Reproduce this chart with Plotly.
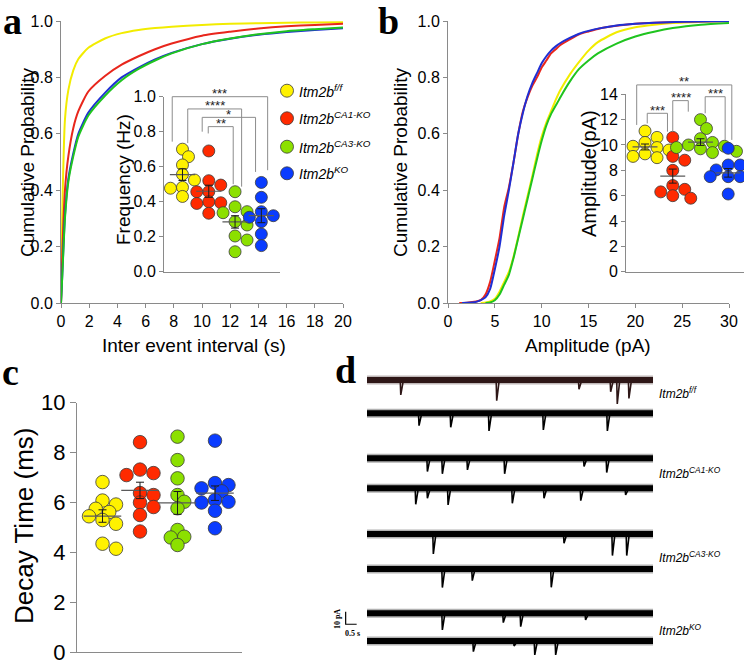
import numpy as np
import plotly.graph_objects as go

W, H = 744, 662
FONT = "Liberation Sans"
SERIF = "Liberation Serif"

def px(x):
    return x / W

def py(y):
    return 1 - y / H

# ---------------- data ----------------
genotype_labels = ["Itm2b<sup>f/f</sup>", "Itm2b<sup>CA1-KO</sup>",
                   "Itm2b<sup>CA3-KO</sup>", "Itm2b<sup>KO</sup>"]
dot_colors = ["#FFF200", "#FF2A00", "#8CE000", "#0A3CFF"]
curve_colors = ["#F2EC00", "#E8261C", "#1FC41F", "#1F2FD4"]
curve_order = [0, 1, 3, 2]

# panel a: cumulative probability of inter event interval (s)
iei_x = [0, 0.095, 0.28, 0.52, 0.87, 1.23, 1.94, 3.12, 4.3, 5.5, 6.67, 7.85,
         10, 12, 14, 16, 18, 20]
iei_ff = [0, 0.33, 0.65, 0.755, 0.825, 0.865, 0.905, 0.938, 0.957, 0.968, 0.975,
          0.98, 0.986, 0.99, 0.992, 0.994, 0.995, 0.996]
iei_ca1 = [0, 0.18, 0.40, 0.52, 0.62, 0.68, 0.75, 0.805, 0.845, 0.875, 0.90,
           0.92, 0.948, 0.962, 0.973, 0.981, 0.986, 0.99]
iei_ca3 = [0, 0.10, 0.30, 0.43, 0.52, 0.59, 0.665, 0.735, 0.79, 0.83, 0.86,
           0.885, 0.918, 0.938, 0.953, 0.964, 0.971, 0.977]
iei_ko = [0, 0.105, 0.31, 0.44, 0.53, 0.60, 0.675, 0.745, 0.80, 0.835, 0.864,
          0.887, 0.918, 0.937, 0.951, 0.961, 0.968, 0.974]

# panel b: cumulative probability of amplitude (pA)
amp_x_ff = [3.5, 4, 4.5, 5, 5.5, 6, 6.5, 7, 7.5, 8, 8.5, 9, 9.5, 10, 10.5, 11,
            11.5, 12, 13, 14, 15, 16, 18, 20, 22, 24, 27, 30]
amp_ff = [0, 0.002, 0.006, 0.015, 0.04, 0.075, 0.11, 0.165, 0.235, 0.31, 0.38,
          0.45, 0.525, 0.59, 0.64, 0.68, 0.72, 0.755, 0.81, 0.855, 0.895, 0.925,
          0.96, 0.978, 0.987, 0.993, 0.997, 1.0]
amp_x_ca1 = [1.2, 2, 3, 3.5, 4, 4.5, 5, 5.5, 6, 6.5, 7, 7.5, 8, 8.5, 9, 9.5, 10,
             10.5, 11, 11.5, 12, 13, 14, 15, 16, 18, 20, 22, 25, 30]
amp_ca1 = [0, 0.001, 0.005, 0.01, 0.03, 0.075, 0.15, 0.23, 0.34, 0.41, 0.50,
           0.60, 0.68, 0.73, 0.77, 0.80, 0.835, 0.86, 0.885, 0.90, 0.915, 0.935,
           0.953, 0.963, 0.972, 0.983, 0.99, 0.994, 0.997, 1.0]
amp_x_ca3 = [4, 4.5, 5, 5.5, 6, 6.5, 7, 7.5, 8, 8.5, 9, 9.5, 10, 10.5, 11, 11.5,
             12, 13, 14, 15, 16, 18, 20, 22, 24, 27, 30]
amp_ca3 = [0, 0.002, 0.01, 0.03, 0.065, 0.10, 0.16, 0.23, 0.30, 0.37, 0.44, 0.51,
           0.575, 0.63, 0.67, 0.70, 0.73, 0.785, 0.83, 0.86, 0.885, 0.92, 0.945,
           0.962, 0.975, 0.987, 0.993]
amp_x_ko = [1.5, 3, 3.5, 4, 4.5, 5, 5.5, 6, 6.5, 7, 7.5, 8, 8.5, 9, 9.5, 10,
            10.5, 11, 11.5, 12, 13, 14, 15, 16, 18, 20, 22, 25, 30]
amp_ko = [0, 0.004, 0.01, 0.02, 0.05, 0.12, 0.20, 0.31, 0.40, 0.50, 0.60, 0.675,
          0.735, 0.78, 0.815, 0.85, 0.875, 0.895, 0.91, 0.922, 0.94, 0.955, 0.965,
          0.973, 0.984, 0.99, 0.994, 0.997, 1.0]

# inset a: frequency (Hz) per cell
freq_ff = [0.70, 0.657, 0.61, 0.556, 0.524, 0.482, 0.477, 0.43]
freq_ca1 = [0.69, 0.52, 0.495, 0.457, 0.457, 0.40, 0.394, 0.39, 0.334]
freq_ca3 = [0.457, 0.371, 0.343, 0.337, 0.286, 0.267, 0.204, 0.181, 0.114]
freq_ko = [0.51, 0.425, 0.343, 0.32, 0.311, 0.286, 0.215, 0.149]

# inset b: amplitude (pA) per cell
ampc_ff = [11.1, 10.6, 10.2, 9.9, 9.8, 9.6, 9.3, 9.1, 9.0]
ampc_ca1 = [10.6, 9.1, 8.8, 8.0, 6.8, 6.5, 6.3, 6.0, 5.8]
ampc_ca3 = [12.0, 11.3, 10.5, 10.2, 10.0, 9.9, 9.8, 9.7, 9.5, 9.4]
ampc_ko = [9.74, 8.42, 8.42, 8.03, 7.5, 7.5, 7.5, 6.98, 6.13]

# panel c: decay time (ms) per cell
decay_ff = [6.82, 6.08, 5.92, 5.75, 5.62, 5.45, 5.3, 5.15, 4.35, 4.15]
decay_ca1 = [8.42, 7.32, 7.18, 7.1, 6.38, 6.3, 6.0, 5.82, 5.5, 4.84]
decay_ca3 = [8.64, 7.7, 6.97, 6.3, 6.03, 5.77, 4.9, 4.63, 4.6, 4.3]
decay_ko = [8.48, 6.78, 6.7, 6.57, 6.45, 6.1, 6.03, 6.0, 5.67, 4.97]

# significance labels
freq_sig = ["***", "****", "*", "**"]
amp_sig = ["**", "***", "****", "***"]

# panel d: example traces (two per genotype); events = (time s, amplitude pA)
trace_duration = 13.0
trace_offsets = [0, -26.4, -62.1, -86.0, -122.2, -150.0, -185.2, -207.1]
event_times = [
    [1.52, 5.88, 9.62, 11.06, 11.36, 11.89],
    [2.35, 3.79, 5.53, 8.0, 10.91],
    [2.73, 3.41, 4.55, 6.24, 9.85, 10.88],
    [2.2, 2.73, 3.67, 6.59, 8.03, 9.7, 11.74],
    [3.0, 8.94, 11.14, 11.79],
    [3.41, 4.77, 8.36],
    [3.41, 6.18, 6.97, 9.92],
    [4.82, 6.67, 7.61, 8.56],
]
event_amps = [
    [11.9, 16.4, 7.4, 9.3, 19.0, 14.6],
    [9.8, 11.1, 14.0, 13.2, 14.0],
    [10.6, 12.4, 9.3, 12.4, 6.6, 11.4],
    [12.7, 7.9, 13.2, 11.9, 7.9, 9.8, 5.3],
    [15.9, 7.4, 17.2, 17.2],
    [14.8, 9.3, 14.6],
    [13.2, 7.4, 10.6, 5.3],
    [8.5, 4.0, 11.1, 11.1],
]
trace_colors = ["#2E1717"] + ["#000000"] * 7

fig = go.Figure()

# ---------------- helpers ----------------
def swarm(vals, center, ppu_x, ppu_y, diam, overlap=0.75, step=0.5):
    placed = []
    xs = [0.0] * len(vals)
    order = sorted(range(len(vals)), key=lambda i: -vals[i])
    cands = [0.0]
    for j in range(1, 30):
        cands += [j * step * diam, -j * step * diam]
    for i in order:
        yv = vals[i] * ppu_y
        chosen = cands[-1]
        for c in cands:
            if all((c - a) ** 2 + (yv - b) ** 2 >= (overlap * diam) ** 2 for a, b in placed):
                chosen = c
                break
        placed.append((chosen, yv))
        xs[i] = center + chosen / ppu_x
    return xs


def dot_panel(groups, xa, ya, ppu_x, ppu_y, diam, half, overlap=0.75):
    for g, vals in enumerate(groups):
        c = g + 1
        xs = swarm(vals, c, ppu_x, ppu_y, diam, overlap=overlap)
        fig.add_trace(go.Scatter(
            x=xs, y=vals, mode="markers", xaxis=xa, yaxis=ya, showlegend=False,
            marker=dict(size=diam, color=dot_colors[g],
                        line=dict(color="#3A3A3A", width=0.8))))
    for g, vals in enumerate(groups):
        c = g + 1
        m = float(np.mean(vals))
        sem = float(np.std(vals, ddof=1) / np.sqrt(len(vals)))
        fig.add_trace(go.Scatter(
            x=[c - half, c + half], y=[m, m], mode="lines", xaxis=xa, yaxis=ya,
            showlegend=False, line=dict(color="#5A5A5A", width=1.2)))
        fig.add_trace(go.Scatter(
            x=[c], y=[m], mode="markers", xaxis=xa, yaxis=ya, showlegend=False,
            marker=dict(size=1, color="rgba(0,0,0,0)"),
            error_y=dict(type="data", array=[sem], color="#1A1A1A",
                         thickness=1, width=4)))


def bracket(xa, ya, xl, xr, yl, yr, top, label, fsize):
    fig.add_trace(go.Scatter(
        x=[xl, xl, xr, xr], y=[yl, top, top, yr], mode="lines", xaxis=xa,
        yaxis=ya, showlegend=False, line=dict(color="#8C8C8C", width=1)))
    fig.add_annotation(x=(xl + xr) / 2, y=top, xref=xa, yref=ya, text=label,
                       showarrow=False, xanchor="center", yanchor="middle",
                       yshift=3, font=dict(family=FONT, size=fsize, color="#222"))

# ---------------- panel a ----------------
iei_series = [iei_ff, iei_ca1, iei_ca3, iei_ko]
for g in curve_order:
    fig.add_trace(go.Scatter(x=iei_x, y=iei_series[g], mode="lines",
                             xaxis="x", yaxis="y", showlegend=False,
                             line=dict(color=curve_colors[g], width=2,
                                       shape="spline", smoothing=0.6)))

# ---------------- panel b ----------------
amp_series = [(amp_x_ff, amp_ff), (amp_x_ca1, amp_ca1), (amp_x_ca3, amp_ca3),
              (amp_x_ko, amp_ko)]
for g in [0, 2, 1, 3]:
    xs, ys = amp_series[g]
    fig.add_trace(go.Scatter(x=xs, y=ys, mode="lines", xaxis="x4", yaxis="y4",
                             showlegend=False,
                             line=dict(color=curve_colors[g], width=2,
                                       shape="spline", smoothing=0.6)))

# inset / panel geometry (pixels)
ia_x0, ia_x1, ia_bot, ia_top = 164, 280, 271.7, 96.7
ia_range_x = [0.297, 4.71]
ia_ppu_x = (ia_x1 - ia_x0) / (ia_range_x[1] - ia_range_x[0])
ia_ppu_y = (ia_bot - ia_top) / 1.0
dot_panel([freq_ff, freq_ca1, freq_ca3, freq_ko], "x2", "y2",
          ia_ppu_x, ia_ppu_y, 12, 0.48)

ib_x0, ib_x1, ib_bot, ib_top = 626, 744, 271.7, 94.3
ib_range_x = [0.314, 4.57]
ib_ppu_x = (ib_x1 - ib_x0) / (ib_range_x[1] - ib_range_x[0])
ib_ppu_y = (ib_bot - ib_top) / 14.0
dot_panel([ampc_ff, ampc_ca1, ampc_ca3, ampc_ko], "x5", "y5",
          ib_ppu_x, ib_ppu_y, 12, 0.45)

c_x0, c_x1, c_bot, c_top = 77, 242, 652.3, 402.7
c_range_x = [0.32, 4.72]
c_ppu_x = (c_x1 - c_x0) / (c_range_x[1] - c_range_x[0])
c_ppu_y = (c_bot - c_top) / 10.0
dot_panel([decay_ff, decay_ca1, decay_ca3, decay_ko], "x7", "y7",
          c_ppu_x, c_ppu_y, 13.5, 0.5, overlap=0.68)

# significance brackets: (x left, x right, left foot, right foot, top)
freq_brk = [(0.61, 4.24, 0.743, 0.58, 1.0),
            (1.20, 3.25, 0.735, 0.486, 0.93),
            (1.75, 3.78, 0.80, 0.57, 0.882),
            (1.98, 2.93, 0.79, 0.50, 0.829)]
for (xl, xr, yl, yr, top), lab in zip(freq_brk, freq_sig):
    bracket("x2", "y3", xl, xr, yl, yr, top, lab, 13)

amp_brk = [(0.70, 4.13, 11.58, 10.4, 14.74),
           (1.08, 1.81, 11.7, 11.05, 12.5),
           (2.0, 2.56, 11.05, 12.63, 13.5),
           (3.17, 3.89, 12.5, 10.4, 13.81)]
for (xl, xr, yl, yr, top), lab in zip(amp_brk, amp_sig):
    bracket("x5", "y6", xl, xr, yl, yr, top, lab, 13)

# ---------------- panel d ----------------
for r, off in enumerate(trace_offsets):
    col = trace_colors[r]
    fig.add_trace(go.Scatter(x=[0, trace_duration], y=[off, off], mode="lines",
                             xaxis="x8", yaxis="y8", showlegend=False,
                             opacity=0.3, line=dict(color=col, width=9)))
    fig.add_trace(go.Scatter(x=[0, trace_duration], y=[off, off], mode="lines",
                             xaxis="x8", yaxis="y8", showlegend=False,
                             line=dict(color=col, width=6)))
    ex, ey = [], []
    for t, a in zip(event_times[r], event_amps[r]):
        ex += [t - 0.01, t + 0.015, t + 0.12, None]
        ey += [off, off - a, off - 1.5, None]
    fig.add_trace(go.Scatter(x=ex, y=ey, mode="lines", xaxis="x8", yaxis="y8",
                             showlegend=False, line=dict(color=col, width=1.6)))

# scale bar
sb_t, sb_y, sb_pA, sb_s = -0.97, -193.9, 10, 0.5
fig.add_trace(go.Scatter(x=[sb_t, sb_t, sb_t + sb_s], y=[sb_y + sb_pA, sb_y, sb_y],
                         mode="lines", xaxis="x8", yaxis="y8", showlegend=False,
                         line=dict(color="black", width=1.2)))
fig.add_annotation(x=sb_t - 0.4, y=sb_y + sb_pA / 2 - 1, xref="x8", yref="y8",
                   text="<b>10 pA</b>", textangle=-90, showarrow=False,
                   xanchor="center", yanchor="middle",
                   font=dict(family=SERIF, size=8, color="black"))
fig.add_annotation(x=sb_t + 0.33, y=sb_y - 7, xref="x8", yref="y8",
                   text="<b>0.5 s</b>", showarrow=False,
                   xanchor="center", yanchor="middle",
                   font=dict(family=SERIF, size=8, color="black"))

# row labels
for lab, ypix in zip(genotype_labels, [393, 473, 557, 630]):
    fig.add_annotation(x=px(657), y=py(ypix), xref="paper", yref="paper",
                       text="<i>" + lab + "</i>", showarrow=False,
                       xanchor="left", yanchor="middle",
                       font=dict(family=FONT, size=12, color="black"))

# ---------------- legend for inset a ----------------
leg_y = [90.7, 118.3, 146.7, 173.3]
for g, yy in enumerate(leg_y):
    r = 6.5
    fig.add_shape(type="circle", xref="paper", yref="paper",
                  x0=px(287 - r), x1=px(287 + r), y0=py(yy + r), y1=py(yy - r),
                  fillcolor=dot_colors[g], line=dict(color="#3A3A3A", width=0.8))
    fig.add_annotation(x=px(297), y=py(yy), xref="paper", yref="paper",
                       text="<i>" + genotype_labels[g] + "</i>", showarrow=False,
                       xanchor="left", yanchor="middle",
                       font=dict(family=FONT, size=14, color="black"))

# ---------------- axis titles & letters ----------------
def title(text, x, y, size, angle=0):
    fig.add_annotation(x=px(x), y=py(y), xref="paper", yref="paper", text=text,
                       textangle=angle, showarrow=False, xanchor="center",
                       yanchor="middle",
                       font=dict(family=FONT, size=size, color="black"))

title("Cumulative Probability", 28, 162, 19, -90)
title("Inter event interval (s)", 194, 345, 19)
title("Frequency (Hz)", 124, 180, 19, -90)
title("Cumulative Probability", 401, 162, 19, -90)
title("Amplitude (pA)", 588, 345, 19)
title("Amplitude(pA)", 589, 174, 20, -90)
title("Decay Time (ms)", 24, 526, 26, -90)

for letter, x, y in [("a", 12, 21), ("b", 388, 21), ("c", 10, 372), ("d", 345, 370)]:
    fig.add_annotation(x=px(x), y=py(y), xref="paper", yref="paper",
                       text="<b>" + letter + "</b>", showarrow=False,
                       xanchor="center", yanchor="middle",
                       font=dict(family=SERIF, size=38, color="black"))

# ---------------- axes ----------------
axis_col = "#8A8A8A"
base = dict(showgrid=False, zeroline=False, showline=True, linecolor=axis_col,
            linewidth=1, ticks="outside", tickcolor=axis_col, ticklen=4,
            automargin=False, ticklabeloverflow="allow",
            tickfont=dict(family=FONT, size=16, color="black"))
hidden_x = dict(showgrid=False, zeroline=False, showline=True, automargin=False,
                linecolor=axis_col, linewidth=1, ticks="", showticklabels=False)

fig.update_layout(
    template="none",
    width=W, height=H, margin=dict(l=0, r=0, t=0, b=0, pad=0),
    paper_bgcolor="white", plot_bgcolor="rgba(0,0,0,0)", showlegend=False,
    xaxis=dict(base, domain=[px(61), px(343)], range=[0, 20], dtick=2,
               anchor="y"),
    yaxis=dict(base, domain=[py(303), py(21)], range=[0, 1], dtick=0.2,
               tickformat=".1f", anchor="x"),
    xaxis2=dict(hidden_x, domain=[px(ia_x0), px(ia_x1)], range=ia_range_x,
                anchor="y2"),
    yaxis2=dict(base, domain=[py(ia_bot), py(ia_top)], range=[0, 1], dtick=0.2,
                tickformat=".1f", anchor="x2"),
    yaxis3=dict(visible=False, automargin=False, domain=[py(ia_bot), py(70)],
                range=[0, (ia_bot - 70) / ia_ppu_y], anchor="x2"),
    xaxis4=dict(base, domain=[px(448), px(729)], range=[0, 30], dtick=5,
                anchor="y4"),
    yaxis4=dict(base, domain=[py(303), py(21)], range=[0, 1], dtick=0.2,
                tickformat=".1f", anchor="x4"),
    xaxis5=dict(hidden_x, domain=[px(ib_x0), px(ib_x1)], range=ib_range_x,
                anchor="y5"),
    yaxis5=dict(base, domain=[py(ib_bot), py(ib_top)], range=[0, 14], dtick=2,
                anchor="x5"),
    yaxis6=dict(visible=False, automargin=False, domain=[py(ib_bot), py(55)],
                range=[0, (ib_bot - 55) / ib_ppu_y], anchor="x5"),
    xaxis7=dict(hidden_x, domain=[px(c_x0), px(c_x1)], range=c_range_x,
                anchor="y7"),
    yaxis7=dict(base, domain=[py(c_bot), py(c_top)], range=[0, 10], dtick=2,
                ticklen=6, tickfont=dict(family=FONT, size=22, color="black"),
                anchor="x7"),
    xaxis8=dict(visible=False, automargin=False, domain=[px(330), px(700)],
                range=[-1.682, 15.136], anchor="y8"),
    yaxis8=dict(visible=False, automargin=False, domain=[py(655), py(365)],
                range=[-218.3, 11.9], anchor="x8"),
)

fig.write_html("out.html", config={"displayModeBar": False},
               post_script="document.body.style.margin='0';"
                           "document.body.style.padding='0';")
